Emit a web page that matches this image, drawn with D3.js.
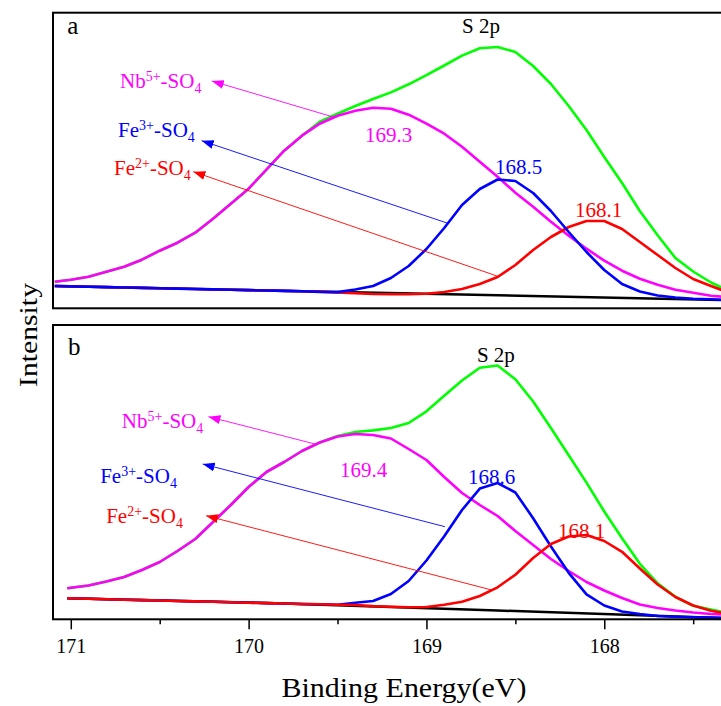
<!DOCTYPE html>
<html><head><meta charset="utf-8">
<script src="https://cdn.jsdelivr.net/npm/d3@7"></script>
<style>
body{margin:0;background:#fff}
svg{display:block}
svg text{font-family:"Times New Roman","Liberation Serif",Tinos,"DejaVu Serif",serif}
</style>
</head><body>
<svg id="c" width="721" height="706"></svg>
<script>
// ---------- data (binding energy in eV, intensity in arbitrary units) ----------
const energyA = [171.09,171.0,170.9,170.8,170.7,170.6,170.5,170.4,170.3,170.2,170.1,170.0,169.9,169.8,169.7,169.6,169.5,169.4,169.3,169.2,169.1,169.0,168.9,168.8,168.7,168.6,168.5,168.4,168.3,168.2,168.1,168.0,167.9,167.8,167.7,167.6,167.5,167.4,167.34];
const nbA  = [26,28,31,36,41,48,57,65,75,89,104,119,138,157,172,184,192,197,200,199,193,184,174,161,146,131,115,101,86,72,59,47,37,29,23,18,15,12,11];
const fe3A = [21.7,21.3,21,20.6,20.2,19.8,19.5,19.1,18.7,18.3,18,17.6,17.2,16.8,16.5,15.8,15.6,18.2,21.7,29.7,41.7,58.7,79.7,102.7,118.7,128.2,126.7,114.7,96.7,75.7,55.7,37.7,23.7,16.2,12.2,10.2,8.9,8.4,7.9];
const fe2A = [21.7,21.3,21,20.6,20.2,19.8,19.5,19.1,18.7,18.3,18,17.6,17.2,16.8,16.5,16.1,15.2,14.4,13.7,13.4,13.4,14,15.7,18.7,23.7,30.7,42.7,57.7,70.7,80.7,86.7,86.7,78.7,65.7,52.7,39.7,28.7,21.7,17.7];
const envA = [26,28,31,36,41,48,57,65,75,89,104,119,138,157,172,186,194,201.7,208.7,215.3,223.4,232.5,242.2,252.1,259.4,260.7,255.7,241.7,223.7,201.7,177.7,150.7,124.7,96.7,72.4,49.7,36.2,25.2,20.2];
const bgEnergyA = [171.09,167.34];
const bgA = [21.7,7.7];

const energyB = [171.02,170.9,170.8,170.7,170.6,170.5,170.4,170.3,170.2,170.1,170.0,169.9,169.8,169.7,169.6,169.5,169.4,169.3,169.2,169.1,169.0,168.9,168.8,168.7,168.6,168.5,168.4,168.3,168.2,168.1,168.0,167.9,167.8,167.7,167.6,167.5,167.4,167.34];
const nbB  = [31,33.8,37.8,42.3,49.3,57.3,68.3,80.3,97.3,114.3,132.3,147.3,157.3,168.3,176.8,182.8,185.3,184.3,180.8,170.3,159.3,142.3,126.3,114.3,103.3,88.3,74.3,60.3,48.3,37.3,28.8,21.3,14.8,11.3,8.8,6.8,5.3,4.8];
const fe3B = [21,20.5,20,19.6,19.2,18.8,18.3,17.9,17.5,17.1,16.6,16.2,15.8,15.3,15,14.6,16.5,18.3,25.3,38.3,58.8,83,109.3,130.7,136.3,126.8,101.1,72.8,46.5,25,13.8,7.8,5.3,3.3,2.5,2,1.7,1.5];
const fe2B = [21,20.5,20,19.6,19.2,18.8,18.3,17.9,17.5,17.1,16.6,16.2,15.8,15.3,15,14.6,14.3,13.2,12.5,12,12.3,14.5,17.5,23.3,32,44.6,61.3,75.3,82.8,84.3,78.3,67.5,50.8,34.8,22.3,13.8,8.5,6.5];
const envB = [31,33.8,37.8,42.3,49.3,57.3,68.3,80.3,97.3,114.3,132.3,147.3,157.3,168.3,176.8,183.3,187.3,188.9,191.3,196.3,208,223.5,238.8,251.6,253.8,240.1,217.8,191.3,164,136.7,107.8,81,55.5,36,22.5,13.5,9.8,7.5];
const bgEnergyB = [171.02,169.85,168.6,167.34];
const bgB = [21,16,8.8,1.3];

const panelLetters = ["a","b"];
const regionLabel = "S 2p";
const ionElements = ["Nb","Fe","Fe"];
const ionCharges = ["5+","3+","2+"];
const peakLabelsA = ["169.3","168.5","168.1"];
const peakLabelsB = ["169.4","168.6","168.1"];
const majorTicks = [171,170,169,168];
const minorTicks = [170.5,169.5,168.5,167.5];
const xTitle = "Binding Energy(eV)";
const yTitle = "Intensity";

// ---------- layout / style ----------
const FONT = '"Times New Roman","Liberation Serif",Tinos,"DejaVu Serif",serif';
const C = {nb:"#ff00ff", fe3:"#0000ff", fe2:"#ff0000", env:"#00ff00", bg:"#000000"};
const ionColors = [C.nb, C.fe3, C.fe2];
const left = 53, right = 722;
const x = d3.scaleLinear().domain([171.1,167.338]).range([left,right]);

const panels = [
  {E:energyA, nb:nbA, fe3:fe3A, fe2:fe2A, env:envA, bgE:bgEnergyA, bg:bgA,
   top:12.7, bottom:308.3, y0:307.7, yMax:295,
   order:["env","nb","fe2","fe3"], peaks:peakLabelsA,
   letter:[171.02,273.7], region:[168.80,274.4],
   ionText:[[170.723,219.7],[170.734,171],[170.757,132.7]],
   arrowHead:[[170.207,226.7],[170.264,167],[170.311,136]],
   arrowTail:[[169.524,190.7],[168.879,84.4],[168.603,31.7]],
   peakPos:[[169.345,165.4],[168.614,133.7],[168.165,91]]},
  {E:energyB, nb:nbB, fe3:fe3B, fe2:fe2B, env:envB, bgE:bgEnergyB, bg:bgB,
   top:325, bottom:619.3, y0:619.3, yMax:294.3,
   order:["env","nb","fe3","fe2"], peaks:peakLabelsB,
   letter:[171.015,264.3], region:[168.716,257.6],
   ionText:[[170.713,191],[170.835,136],[170.801,96]],
   arrowHead:[[170.226,202.6],[170.258,155.3],[170.239,103.6]],
   arrowTail:[[169.627,175.3],[168.896,92.6],[168.633,29.3]],
   peakPos:[[169.486,142.6],[168.766,135],[168.26,81.6]]}
];

const svg = d3.select("#c");
svg.append("rect").attr("width",721).attr("height",706).attr("fill","#fff");

const defs = svg.append("defs");
ionColors.forEach((col,i)=>{
  defs.append("marker").attr("id","ah"+i)
    .attr("markerUnits","userSpaceOnUse")
    .attr("markerWidth",13).attr("markerHeight",9)
    .attr("refX",12).attr("refY",4.5).attr("orient","auto")
    .append("path").attr("d","M0,0 L12,4.5 L0,9 Z").attr("fill",col);
});

panels.forEach((p,pi)=>{
  const y = d3.scaleLinear().domain([0,p.yMax]).range([p.y0, p.y0 - p.yMax]);
  const g = svg.append("g");
  const line = d3.line().x(d=>x(d[0])).y(d=>y(d[1])).curve(d3.curveLinear);

  g.append("path").datum(p.bgE.map((e,i)=>[e,p.bg[i]]))
    .attr("d",line).attr("fill","none").attr("stroke",C.bg).attr("stroke-width",2.5);

  p.order.forEach(k=>{
    g.append("path").datum(p.E.map((e,i)=>[e,p[k][i]]))
      .attr("d",line).attr("fill","none").attr("stroke",C[k])
      .attr("stroke-width",2.6).attr("stroke-linejoin","round");
  });

  p.arrowTail.forEach((t,i)=>{
    g.append("line")
      .attr("x1",x(t[0])).attr("y1",y(t[1]))
      .attr("x2",x(p.arrowHead[i][0])).attr("y2",y(p.arrowHead[i][1]))
      .attr("stroke",ionColors[i]).attr("stroke-width",0.9)
      .attr("marker-end","url(#ah"+i+")");
  });

  p.ionText.forEach((pos,i)=>{
    const t = g.append("text").attr("x",x(pos[0])).attr("y",y(pos[1]))
      .attr("fill",ionColors[i]).style("font-family",FONT).style("font-size","21px");
    t.append("tspan").text(ionElements[i]);
    t.append("tspan").attr("dy",-7).style("font-size","14px").text(ionCharges[i]);
    t.append("tspan").attr("dy",7).text("-SO");
    t.append("tspan").attr("dy",5).style("font-size","14px").text("4");
  });

  p.peakPos.forEach((pos,i)=>{
    g.append("text").attr("x",x(pos[0])).attr("y",y(pos[1]))
      .attr("fill",ionColors[i]).style("font-family",FONT).style("font-size","21px").text(p.peaks[i]);
  });

  g.append("text").attr("x",x(p.region[0])).attr("y",y(p.region[1]))
    .attr("fill","#000").style("font-family",FONT).style("font-size","21px").text(regionLabel);
  g.append("text").attr("x",x(p.letter[0])).attr("y",y(p.letter[1]))
    .attr("fill","#000").style("font-family",FONT).style("font-size","25px").text(panelLetters[pi]);

  g.append("rect").attr("x",left).attr("y",p.top)
    .attr("width",right-left).attr("height",p.bottom-p.top)
    .attr("fill","none").attr("stroke","#000").attr("stroke-width",2);
});

const pb = panels[1];
const axMajor = svg.append("g").attr("transform",`translate(0,${pb.bottom})`)
  .call(d3.axisBottom(x).tickValues(majorTicks).tickSize(10).tickPadding(10).tickFormat(d3.format("d")));
axMajor.attr("font-family",null);
axMajor.select(".domain").remove();
axMajor.selectAll(".tick line").attr("stroke","#000").attr("stroke-width",1.5);
axMajor.selectAll(".tick text").attr("fill","#000")
  .style("font-family",FONT).style("font-size","20px");

const axMinor = svg.append("g").attr("transform",`translate(0,${pb.bottom})`)
  .call(d3.axisBottom(x).tickValues(minorTicks).tickSize(5).tickFormat(""));
axMinor.select(".domain").remove();
axMinor.selectAll(".tick line").attr("stroke","#000").attr("stroke-width",1.5);

svg.append("text").attr("x",404).attr("y",697).attr("text-anchor","middle")
  .style("font-family",FONT).style("font-size","28px")
  .attr("textLength",245).attr("lengthAdjust","spacingAndGlyphs")
  .text(xTitle);
svg.append("text").attr("transform","translate(36.5,335) rotate(-90)")
  .attr("text-anchor","middle").style("font-family",FONT).style("font-size","25px")
  .attr("textLength",104).attr("lengthAdjust","spacingAndGlyphs").text(yTitle);
</script>
</body></html>
